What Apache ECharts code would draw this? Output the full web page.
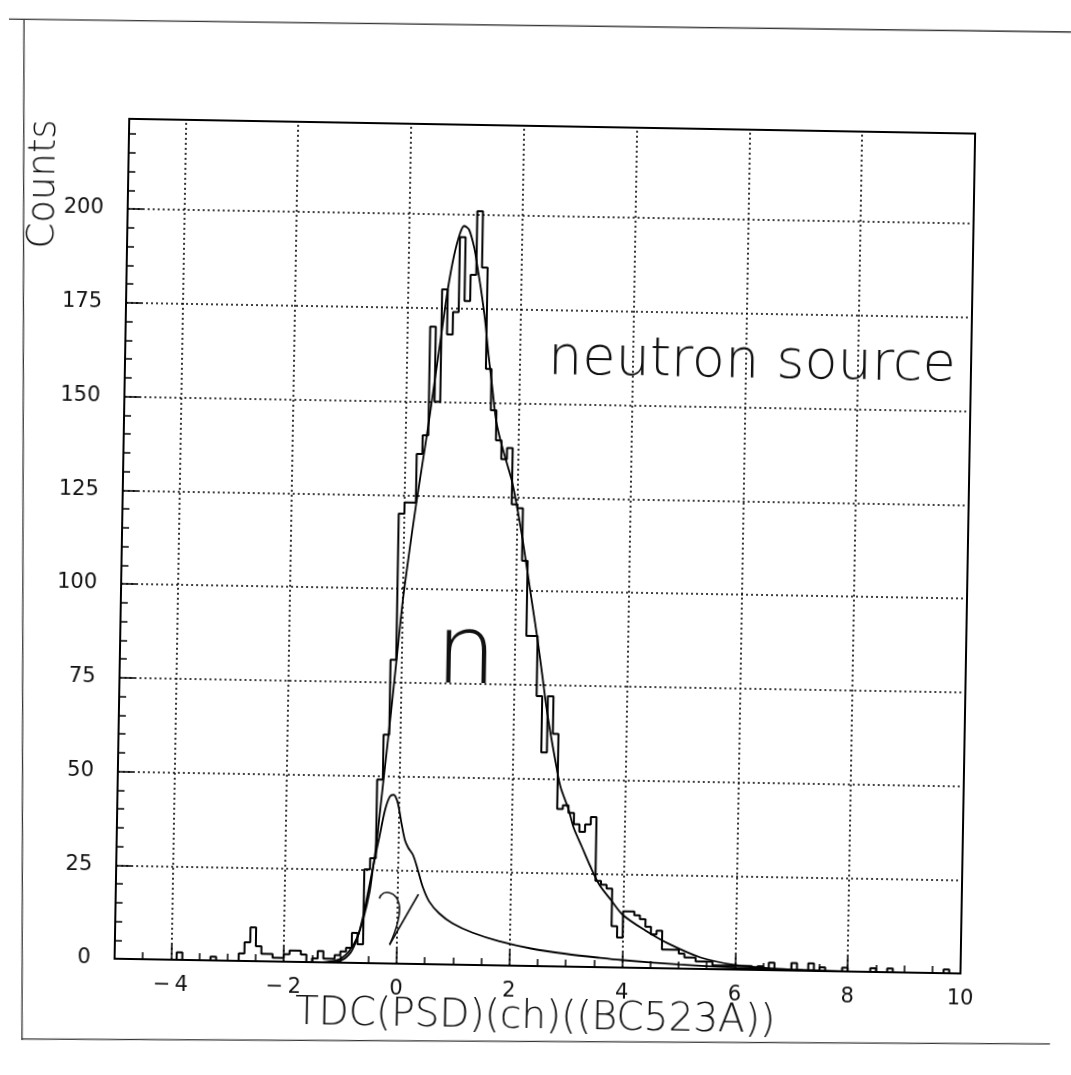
<!DOCTYPE html>
<html><head><meta charset="utf-8">
<script src="https://cdn.jsdelivr.net/npm/echarts@6/dist/echarts.min.js"></script>
<style>
html,body{margin:0;padding:0;background:#fff;overflow:hidden;}
#wrap{width:1071px;height:1075px;transform:rotate(1deg);transform-origin:535.5px 537.5px;}
#chart{width:1071px;height:1075px;}
</style></head><body>
<div id="wrap"><div id="chart"></div></div>
<script>
// ---------------- data ----------------
const binStart = -5, binWidth = 0.1;
const counts = [
  0,0,0,0,0,0,0,0,0,0,          // -5.0 .. -4.1
  0,2,0,0,0,0,0,1,0,0,          // -4.0 .. -3.1
  0,0,2,5,9,4,2,2,1,1,          // -3.0 .. -2.1
  2,3,3,2,0,1,3,1,1,2,          // -2.0 .. -1.1
  3,4,8,5,25,28,49,61,81,120,   // -1.0 .. -0.1
  123,123,136,141,170,150,180,168,174,194, // 0.0 .. 0.9
  177,184,201,186,159,148,140,135,138,123, // 1.0 .. 1.9
  122,108,88,88,72,57,72,62,42,43,         // 2.0 .. 2.9
  41,38,36,38,40,23,22,21,11,8,            // 3.0 .. 3.9
  15,15,14,13,11,9,10,5,5,5,               // 4.0 .. 4.9
  4,3,3,2,2,2,1,1,1,1,                     // 5.0 .. 5.9
  1,1,1,0,1,0,2,0,0,0,                     // 6.0 .. 6.9
  2,0,0,2,0,1,0,0,0,1,                     // 7.0 .. 7.9
  0,0,0,0,1,0,0,1,0,0,                     // 8.0 .. 8.9
  0,0,0,0,0,0,0,1,0,0                      // 9.0 .. 9.9
];
const totalFitX = [-1.3,-1.1,-1.0,-0.85,-0.7,-0.6,-0.5,-0.45,-0.4,-0.3,-0.2,-0.1,0.0,0.1,0.2,0.3,0.4,0.5,0.6,0.7,0.8,0.9,0.97,1.06,1.16,1.22,1.29,1.37,1.44,1.52,1.6,1.7,1.8,1.9,2.0,2.1,2.2,2.3,2.4,2.5,2.6,2.75,2.85,3.0,3.1,3.25,3.4,3.57,3.78,4.0,4.4,4.8,5.4,6.0,6.6,7.2,8.0];
const totalFitY = [0,0.5,1,3,7,12,19,25,31,47,63,80,97,110,122,133,144,156,168,180,189,195,197,196,191,186,180,172,163,154,145,139,134,129,122,114,105,96,87,77,67,55,48,42,37,32,27,22,18,14,10,6.7,3,1.2,0.5,0.2,0.05];
const gammaFitX = [-1.25,-1.0,-0.82,-0.7,-0.61,-0.52,-0.43,-0.34,-0.25,-0.17,-0.1,-0.04,0.0,0.05,0.11,0.17,0.26,0.35,0.44,0.56,0.74,0.98,1.34,1.8,2.4,3.0,3.6,4.0,5.0,6.0,7.0,8.0];
const gammaFitY = [0,0.5,2.7,6.8,12.3,19.5,27,34,41,44.5,45,43.5,41,37,33,31,29,25,20.6,16.7,13.6,11,8.6,6.5,4.6,3.4,2.5,2.0,1.1,0.5,0.2,0.05];
const xTickLabels = [-4,-2,0,2,4,6,8,10];
const xMajorTicks = [-4,-2,0,2,4,6,8];
const yTickStep = 25;
const xTitle = 'TDC(PSD)(ch)((BC523A))';
const yTitle = 'Counts';
const annotation = 'neutron source';

// ---------------- build ----------------
const histData = [[binStart, 0]];
counts.forEach((c, i) => histData.push([+(binStart + i * binWidth).toFixed(2), c]));
histData.push([+(binStart + counts.length * binWidth).toFixed(2), counts[counts.length - 1]]);
const totalFit = totalFitX.map((x, i) => [x, totalFitY[i]]);
const gammaFit = gammaFitX.map((x, i) => [x, gammaFitY[i]]);

const ANG = 1.0 * Math.PI / 180, CX = 535.5, CY = 537.5;
function unrot(X, Y) {
  const dx = X - CX, dy = Y - CY;
  return [CX + dx * Math.cos(ANG) + dy * Math.sin(ANG), CY - dx * Math.sin(ANG) + dy * Math.cos(ANG)];
}

const FONT = 'DejaVu Sans';
const chart = echarts.init(document.getElementById('chart'), null, {renderer: 'canvas'});
const dotted = {color: '#000', width: 1.6, type: [2, 3]};

chart.setOption({
  animation: false,
  backgroundColor: '#fff',
  grid: {left: 122, top: 126, width: 846, height: 840, show: true, borderColor: '#000', borderWidth: 2, backgroundColor: 'transparent'},
  xAxis: [{
    type: 'value', min: -5, max: 10, interval: 0.5,
    axisLine: {show: true, onZero: false, lineStyle: {color: '#000', width: 2}},
    axisTick: {show: true, inside: true, length: 7, lineStyle: {color: '#000', width: 1.5}},
    axisLabel: {show: true, margin: 15, fontFamily: FONT, fontSize: 21, color: '#111',
      formatter: v => (xTickLabels.indexOf(Math.round(v * 10) / 10) >= 0 ? String(v).replace('-', '\u2212\u2009') : '')},
    splitLine: {show: false}
  }, {
    type: 'value', min: -5, max: 10, position: 'bottom',
    axisLine: {show: false, onZero: false},
    axisTick: {show: true, inside: true, length: 15, customValues: xMajorTicks, lineStyle: {color: '#000', width: 1.5}},
    axisLabel: {show: false},
    splitLine: {show: false}
  }],
  yAxis: {
    type: 'value', min: 0, max: 224, interval: yTickStep,
    axisLine: {show: true, onZero: false, lineStyle: {color: '#000', width: 2}},
    axisTick: {show: true, inside: true, length: 15, lineStyle: {color: '#000', width: 1.5}},
    minorTick: {show: true, splitNumber: 5, length: 7, lineStyle: {color: '#000', width: 1.5}},
    axisLabel: {margin: 24, fontFamily: FONT, fontSize: 21, color: '#111',
      formatter: v => (v % yTickStep === 0 ? String(v) : '')},
    splitLine: {show: true, lineStyle: dotted}
  },
  series: [{
    type: 'line', name: 'hist', data: histData, step: 'end', symbol: 'none',
    lineStyle: {color: '#000', width: 2}, xAxisIndex: 0, yAxisIndex: 0,
    markLine: {silent: true, symbol: 'none', label: {show: false}, lineStyle: dotted,
      data: xMajorTicks.map(v => ({xAxis: v}))}
  }, {
    type: 'line', name: 'total fit', data: totalFit, smooth: 0.3, symbol: 'none',
    lineStyle: {color: '#000', width: 1.8}
  }, {
    type: 'line', name: 'gamma fit', data: gammaFit, smooth: 0.3, symbol: 'none',
    lineStyle: {color: '#000', width: 1.8}
  }]
});

const P = v => chart.convertToPixel({seriesIndex: 0}, v);
const pNeutron = P([2.5, 162]);
const pN = P([1.14, 69]);
const pG = P([-0.13, 5]);
const pCounts = unrot(44, 184);
const pTitle = unrot(535, 1018);
const pageLines = [
  [[0, 19], [1071, 32]],
  [[24, 20], [22, 1040]],
  [[22, 1039], [1050, 1044]],
  [[1069, 706], [1066, 1075]]
].map(([a, b]) => {
  const p1 = unrot(a[0], a[1]), p2 = unrot(b[0], b[1]);
  return {type: 'line', silent: true, shape: {x1: p1[0], y1: p1[1], x2: p2[0], y2: p2[1]}, style: {stroke: '#333', lineWidth: 1.3}};
});
const gStyle = {fill: 'none', stroke: '#111', lineWidth: 1.6};

chart.setOption({
  graphic: [
    {type: 'text', x: pNeutron[0], y: pNeutron[1], style: {text: annotation, font: '200 54px "DejaVu Sans"', fill: '#111', textAlign: 'left', textVerticalAlign: 'middle'}},
    {type: 'text', x: pN[0], y: pN[1], style: {text: 'n', font: '200 96px "DejaVu Sans"', fill: '#111', textAlign: 'center', textVerticalAlign: 'bottom'}},
    {type: 'group', x: pG[0], y: pG[1], children: [
      {type: 'bezierCurve', shape: {x1: -11, y1: -46, cpx1: -8, cpy1: -56, cpx2: 6, cpy2: -54, x2: 9, y2: -40}, style: gStyle},
      {type: 'bezierCurve', shape: {x1: 9, y1: -40, cpx1: 11, cpy1: -28, cpx2: 6, cpy2: -14, x2: 0, y2: 0}, style: gStyle},
      {type: 'line', shape: {x1: 0, y1: 0, x2: 28, y2: -51}, style: gStyle}
    ]},
    {type: 'text', x: pCounts[0], y: pCounts[1], rotation: Math.PI / 2, style: {text: yTitle, font: '200 37px "DejaVu Sans"', fill: '#111', textAlign: 'center', textVerticalAlign: 'middle'}},
    {type: 'text', x: pTitle[0], y: pTitle[1], style: {text: xTitle, font: '200 39px "DejaVu Sans"', fill: '#111', textAlign: 'center', textVerticalAlign: 'middle'}},
    ...pageLines
  ]
});
</script>
</body></html>
